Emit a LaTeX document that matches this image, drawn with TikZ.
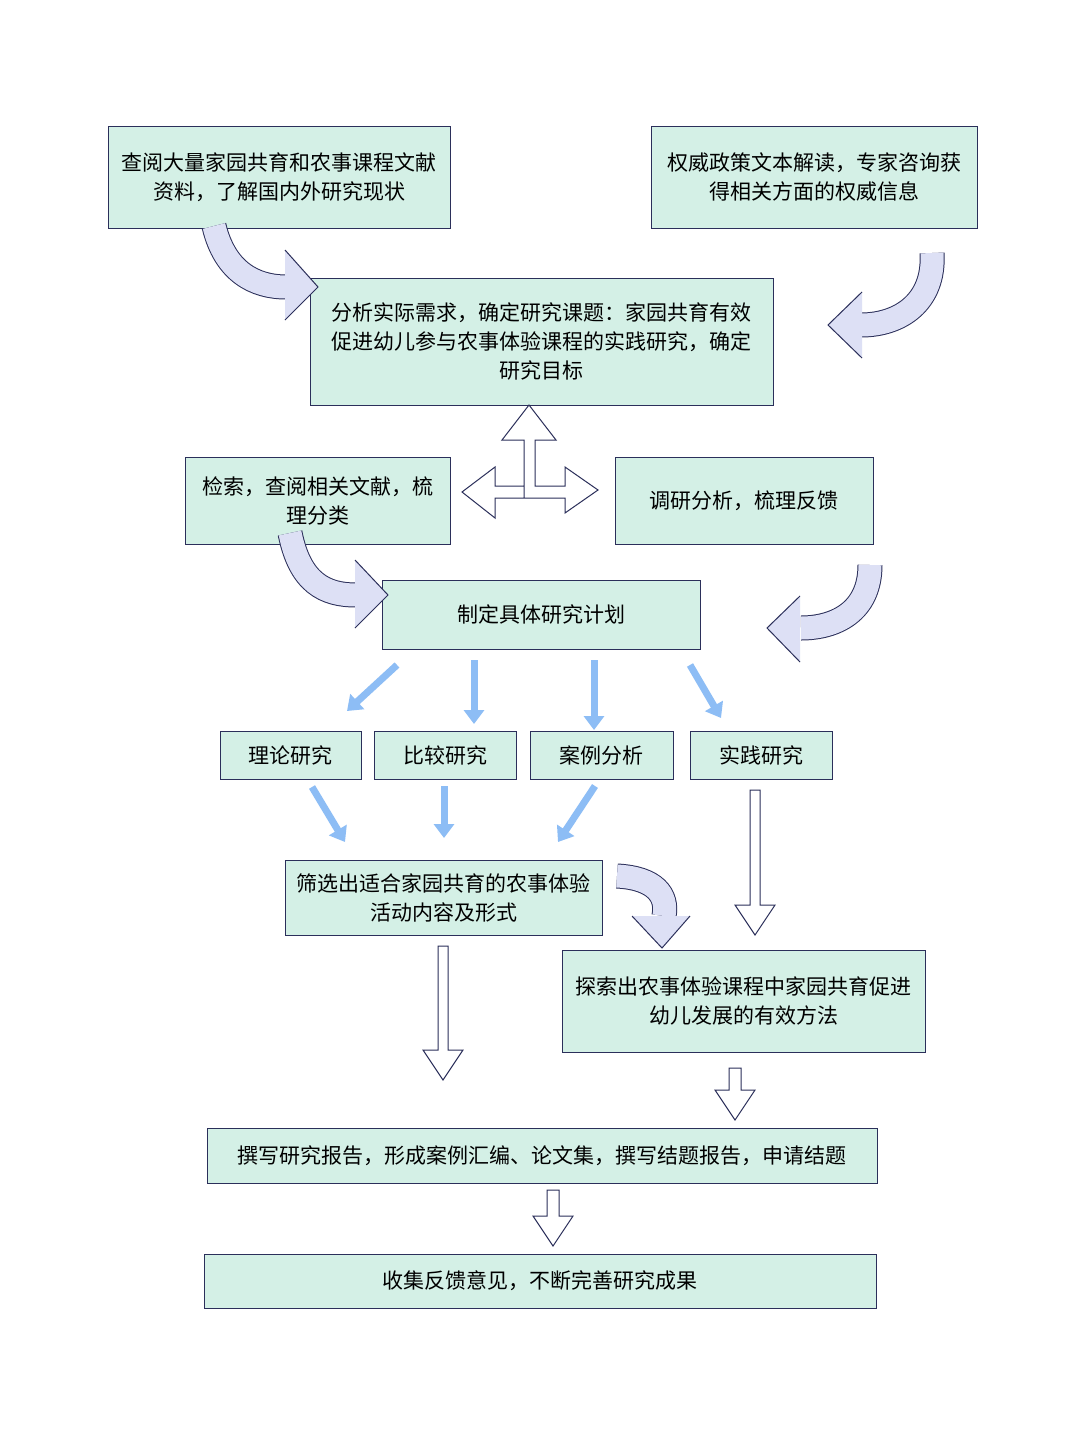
\documentclass[tikz,border=0pt]{standalone}
\usepackage{fontspec}
\setmainfont{Noto Sans CJK SC}
\usetikzlibrary{arrows.meta}
\definecolor{boxfill}{HTML}{D4F0E6}
\definecolor{navy}{HTML}{2B2F5A}
\definecolor{lav}{HTML}{DDE0F5}
\definecolor{ablue}{HTML}{8DBDF5}
\begin{document}
\begin{tikzpicture}[x=1pt,y=-1pt,
  box/.style={draw=navy,fill=boxfill,line width=1pt,align=center,inner sep=0pt,font=\fontsize{21}{29}\selectfont},
  barrow/.style={draw=ablue,line width=7pt,-{Triangle[width=20pt,length=14pt]}},
  hol/.style={draw=navy,fill=white,line width=1pt,line join=miter}]
\useasboundingbox[fill=white] (0,0) rectangle (1080,1440);
\newcommand{\bx}[6]{\node[box,minimum width=#4-#2,minimum height=#5-#3] (#1) at ({(#2+#4)/2},{(#3+#5)/2}) {#6};}
\bx{a}{108}{126}{450}{228}{查阅大量家园共育和农事课程文献\\资料，了解国内外研究现状}
\bx{b}{651}{126}{977}{228}{权威政策文本解读，专家咨询获\\得相关方面的权威信息}
\bx{c}{310}{278}{773}{405}{分析实际需求，确定研究课题：家园共育有效\\促进幼儿参与农事体验课程的实践研究，确定\\研究目标}
\bx{d}{185}{457}{450}{544}{检索，查阅相关文献，梳\\理分类}
\bx{e}{615}{457}{873}{544}{调研分析，梳理反馈}
\bx{f}{382}{580}{700}{649}{制定具体研究计划}
\bx{g1}{220}{731}{361}{779}{理论研究}
\bx{g2}{374}{731}{516}{779}{比较研究}
\bx{g3}{530}{731}{673}{779}{案例分析}
\bx{g4}{690}{731}{832}{779}{实践研究}
\bx{h}{285}{860}{602}{935}{筛选出适合家园共育的农事体验\\活动内容及形式}
\bx{i}{562}{950}{925}{1052}{探索出农事体验课程中家园共育促进\\幼儿发展的有效方法}
\bx{j}{207}{1128}{877}{1183}{撰写研究报告，形成案例汇编、论文集，撰写结题报告，申请结题}
\bx{k}{204}{1254}{876}{1308}{收集反馈意见，不断完善研究成果}
% curved arrows
\newcommand{\carrow}[2]{\draw[navy,line width=25pt] #1; \draw[lav,line width=23pt] #1; \draw[navy,fill=lav,line width=1pt] #2;}
\carrow{(214,226) .. controls (225,272) and (255,287) .. (286,287)}{(285,250)--(318,287)--(285,320)}
\carrow{(932,253) .. controls (935,302) and (900,325) .. (861,325)}{(862,292)--(828,325)--(862,358)}
\carrow{(290,533) .. controls (300,583) and (325,595) .. (356,595)}{(355,560)--(388,595)--(355,628)}
\carrow{(870,565) .. controls (870,612) and (835,628) .. (801,628)}{(800,596)--(767,628)--(800,662)}
\carrow{(617,876) .. controls (655,878) and (668,895) .. (664,916)}{(632,916)--(662,948)--(690,916)}
% cross arrow
\draw[hol] (524,498)--(524,440)--(502,440)--(529,405)--(556,440)--(535,440)--(535,486)--(565,486)--(565,467)--(598,490)--(565,513)--(565,498)--(495,498)--(495,518)--(462,492)--(495,467)--(495,486)--(524,486);
% blue arrows
\draw[barrow] (397,665)--(347,711);
\draw[barrow] (474,660)--(474,724);
\draw[barrow] (594,660)--(594,730);
\draw[barrow] (690,665)--(721,718);
\draw[barrow] (312,787)--(345,842);
\draw[barrow] (444,786)--(444,838);
\draw[barrow] (595,786)--(558,842);
% hollow down arrows
\newcommand{\hd}[5]{\draw[hol] ({#1-#4},#2)--({#1+#4},#2)--({#1+#4},#3)--({#1+#5},#3)--(#1,{#3+30})--({#1-#5},#3)--({#1-#4},#3)--cycle;}
\hd{755}{790}{905}{5}{20}
\hd{443}{946}{1050}{5}{20}
\hd{735}{1068}{1090}{6}{20}
\hd{553}{1190}{1216}{6}{20}
\end{tikzpicture}
\end{document}
